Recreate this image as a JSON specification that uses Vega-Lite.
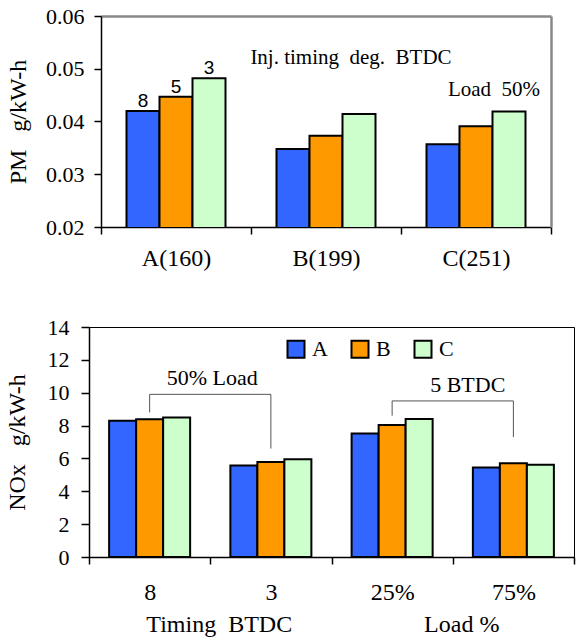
{
  "$schema": "https://vega.github.io/schema/vega-lite/v6.json",
  "padding": {"left": 4, "top": 5, "right": 0, "bottom": 0},
  "background": "white",
  "spacing": 45,
  "config": {
    "font": "Liberation Serif",
    "axis": {"labelFont": "Liberation Serif", "titleFont": "Liberation Serif", "labelFontSize": 22, "titleFontSize": 24, "titleFontWeight": "normal", "labelColor": "black", "titleColor": "black", "domainColor": "black", "tickColor": "black", "grid": false, "domainWidth": 1.5, "tickWidth": 1.5, "labelOverlap": false},
    "legend": {"labelFont": "Liberation Serif", "labelFontSize": 22, "labelColor": "black"}
  },
  "datasets": {
    "pm": [
      {"engine": "A(160)", "timing": "8", "value": 0.0420, "label": "8"},
      {"engine": "A(160)", "timing": "5", "value": 0.0447, "label": "5"},
      {"engine": "A(160)", "timing": "3", "value": 0.0482, "label": "3"},
      {"engine": "B(199)", "timing": "8", "value": 0.0348, "label": ""},
      {"engine": "B(199)", "timing": "5", "value": 0.0373, "label": ""},
      {"engine": "B(199)", "timing": "3", "value": 0.0414, "label": ""},
      {"engine": "C(251)", "timing": "8", "value": 0.0357, "label": ""},
      {"engine": "C(251)", "timing": "5", "value": 0.0391, "label": ""},
      {"engine": "C(251)", "timing": "3", "value": 0.0419, "label": ""}
    ],
    "pmnotes": [
      {"engine": "B(199)", "value": 0.052, "note": "Inj. timing\u00a0 deg.\u00a0 BTDC"},
      {"engine": "C(251)", "value": 0.046, "note": "Load\u00a0 50%"}
    ],
    "nox": [
      {"cond": "8", "engine": "A", "value": 8.30},
      {"cond": "8", "engine": "B", "value": 8.38},
      {"cond": "8", "engine": "C", "value": 8.49},
      {"cond": "3", "engine": "A", "value": 5.57},
      {"cond": "3", "engine": "B", "value": 5.79},
      {"cond": "3", "engine": "C", "value": 5.95},
      {"cond": "25%", "engine": "A", "value": 7.52},
      {"cond": "25%", "engine": "B", "value": 8.04},
      {"cond": "25%", "engine": "C", "value": 8.40},
      {"cond": "75%", "engine": "A", "value": 5.45},
      {"cond": "75%", "engine": "B", "value": 5.71},
      {"cond": "75%", "engine": "C", "value": 5.61}
    ],
    "hrules": [
      {"cond": "8", "cond2": "3", "value": 9.9},
      {"cond": "25%", "cond2": "75%", "value": 9.5}
    ],
    "vrules": [
      {"cond": "8", "value": 9.9, "value2": 8.8},
      {"cond": "3", "value": 9.9, "value2": 6.6},
      {"cond": "25%", "value": 9.5, "value2": 8.6},
      {"cond": "75%", "value": 9.5, "value2": 7.3}
    ],
    "bracketnotes": [
      {"cond": "8", "value": 10.9, "note": "50% Load"},
      {"cond": "25%", "value": 10.5, "note": "5 BTDC"}
    ],
    "xtitles": [
      {"cond": "3", "value": -4.15, "note": "Timing\u00a0 BTDC"},
      {"cond": "75%", "value": -4.15, "note": "Load %"}
    ]
  },
  "vconcat": [
    {
      "width": 462,
      "height": 211,
      "view": {"stroke": null},
      "resolve": {"axis": {"x": "independent", "y": "independent"}},
      "layer": [
        {
          "data": {"name": "pm"},
          "mark": {"type": "bar", "stroke": "black", "strokeWidth": 2, "clip": true},
          "encoding": {
            "x": {"field": "engine", "type": "nominal", "sort": null, "scale": {"domain": ["A(160)", "B(199)", "C(251)"], "range": [12, 462], "paddingInner": 0, "paddingOuter": 0},
                  "axis": {"title": null, "labelAngle": 0, "labelFontSize": 24, "tickBand": "extent", "tickSize": 7, "labelPadding": 12}},
            "xOffset": {"field": "timing", "type": "nominal", "scale": {"domain": ["8", "5", "3"], "paddingInner": 0, "paddingOuter": 0.7727}},
            "y": {"field": "value", "type": "quantitative", "scale": {"domain": [0.02, 0.06], "nice": false, "zero": false},
                  "axis": {"title": "PM\u00a0 \u00a0g/kW-h", "offset": -12, "values": [0.02, 0.03, 0.04, 0.05, 0.06], "format": ".2f", "tickSize": 7, "labelPadding": 10, "titlePadding": 15, "labelOverlap": false}},
            "color": {"field": "timing", "type": "nominal", "scale": {"domain": ["8", "5", "3"], "range": ["#3366FF", "#FF9900", "#CCFFCC"]}, "legend": null}
          }
        },
        {
          "data": {"name": "pm"},
          "mark": {"type": "text", "font": "Liberation Sans", "fontSize": 19, "baseline": "alphabetic", "dy": -4, "color": "black"},
          "encoding": {
            "x": {"field": "engine", "type": "nominal", "sort": null,
                  "axis": {"orient": "top", "title": null, "labels": false, "ticks": false, "domainColor": "#888888", "domainWidth": 2.5}},
            "xOffset": {"field": "timing", "type": "nominal"},
            "y": {"field": "value", "type": "quantitative",
                  "axis": {"orient": "right", "title": null, "labels": false, "ticks": false, "domainColor": "#888888", "domainWidth": 2.5}},
            "text": {"field": "label"}
          }
        },
        {
          "data": {"name": "pmnotes"},
          "transform": [{"filter": "datum.engine == 'B(199)'"}],
          "mark": {"type": "text", "fontSize": 21, "baseline": "middle", "color": "black", "dx": 25},
          "encoding": {
            "x": {"field": "engine", "type": "nominal", "sort": null, "axis": null},
            "y": {"field": "value", "type": "quantitative", "axis": null},
            "text": {"field": "note"}
          }
        },
        {
          "data": {"name": "pmnotes"},
          "transform": [{"filter": "datum.engine == 'C(251)'"}],
          "mark": {"type": "text", "fontSize": 21, "baseline": "middle", "color": "black", "dx": 18},
          "encoding": {
            "x": {"field": "engine", "type": "nominal", "sort": null, "axis": null},
            "y": {"field": "value", "type": "quantitative", "axis": null},
            "text": {"field": "note"}
          }
        }
      ]
    },
    {
      "width": 485,
      "height": 230,
      "view": {"stroke": "black", "strokeWidth": 1},
      "resolve": {"axis": {"x": "independent", "y": "independent"}},
      "layer": [
        {
          "data": {"name": "nox"},
          "mark": {"type": "bar", "stroke": "black", "strokeWidth": 2},
          "encoding": {
            "x": {"field": "cond", "type": "nominal", "sort": null, "scale": {"domain": ["8", "3", "25%", "75%"], "paddingInner": 0, "paddingOuter": 0},
                  "axis": {"title": null, "labelAngle": 0, "labelFontSize": 24, "tickBand": "extent", "tickSize": 7, "labelPadding": 16}},
            "xOffset": {"field": "engine", "type": "nominal", "scale": {"domain": ["A", "B", "C"], "paddingInner": 0, "paddingOuter": 0.745}},
            "y": {"field": "value", "type": "quantitative", "scale": {"domain": [0, 14], "nice": false},
                  "axis": {"title": "NOx\u00a0 \u00a0g/kW-h", "values": [0, 2, 4, 6, 8, 10, 12, 14], "tickSize": 8, "labelPadding": 12, "titlePadding": 18, "labelOverlap": false}},
            "color": {"field": "engine", "type": "nominal", "scale": {"domain": ["A", "B", "C"], "range": ["#3366FF", "#FF9900", "#CCFFCC"]},
                      "legend": {"title": null, "orient": "none", "direction": "horizontal", "legendX": 196, "legendY": 11, "padding": 0,
                                 "symbolType": "square", "symbolSize": 289, "symbolStrokeColor": "black", "symbolStrokeWidth": 2, "symbolOpacity": 1,
                                 "labelOffset": 5, "columnPadding": 19}}
          }
        },
        {
          "data": {"name": "hrules"},
          "mark": {"type": "rule", "color": "#555555", "strokeWidth": 1},
          "encoding": {
            "x": {"field": "cond", "type": "nominal", "sort": null, "axis": null},
            "x2": {"field": "cond2"},
            "y": {"field": "value", "type": "quantitative", "axis": null}
          }
        },
        {
          "data": {"name": "vrules"},
          "mark": {"type": "rule", "color": "#555555", "strokeWidth": 1},
          "encoding": {
            "x": {"field": "cond", "type": "nominal", "sort": null, "axis": null},
            "y": {"field": "value", "type": "quantitative", "axis": null},
            "y2": {"field": "value2"}
          }
        },
        {
          "data": {"name": "bracketnotes"},
          "transform": [{"filter": "datum.cond == '8'"}],
          "mark": {"type": "text", "fontSize": 22, "baseline": "middle", "color": "black", "dx": 2},
          "encoding": {
            "x": {"field": "cond", "type": "nominal", "sort": null, "bandPosition": 1, "axis": null},
            "y": {"field": "value", "type": "quantitative", "axis": null},
            "text": {"field": "note"}
          }
        },
        {
          "data": {"name": "bracketnotes"},
          "transform": [{"filter": "datum.cond == '25%'"}],
          "mark": {"type": "text", "fontSize": 22, "baseline": "middle", "color": "black", "dx": 15},
          "encoding": {
            "x": {"field": "cond", "type": "nominal", "sort": null, "bandPosition": 1, "axis": null},
            "y": {"field": "value", "type": "quantitative", "axis": null},
            "text": {"field": "note"}
          }
        },
        {
          "data": {"name": "xtitles"},
          "mark": {"type": "text", "fontSize": 24, "baseline": "middle", "color": "black", "dx": 9, "clip": false},
          "encoding": {
            "x": {"field": "cond", "type": "nominal", "sort": null, "bandPosition": 0, "axis": null},
            "y": {"field": "value", "type": "quantitative", "axis": null},
            "text": {"field": "note"}
          }
        }
      ]
    }
  ],
  "resolve": {"scale": {"color": "independent", "xOffset": "independent", "x": "independent", "y": "independent"}, "legend": {"color": "independent"}}
}
